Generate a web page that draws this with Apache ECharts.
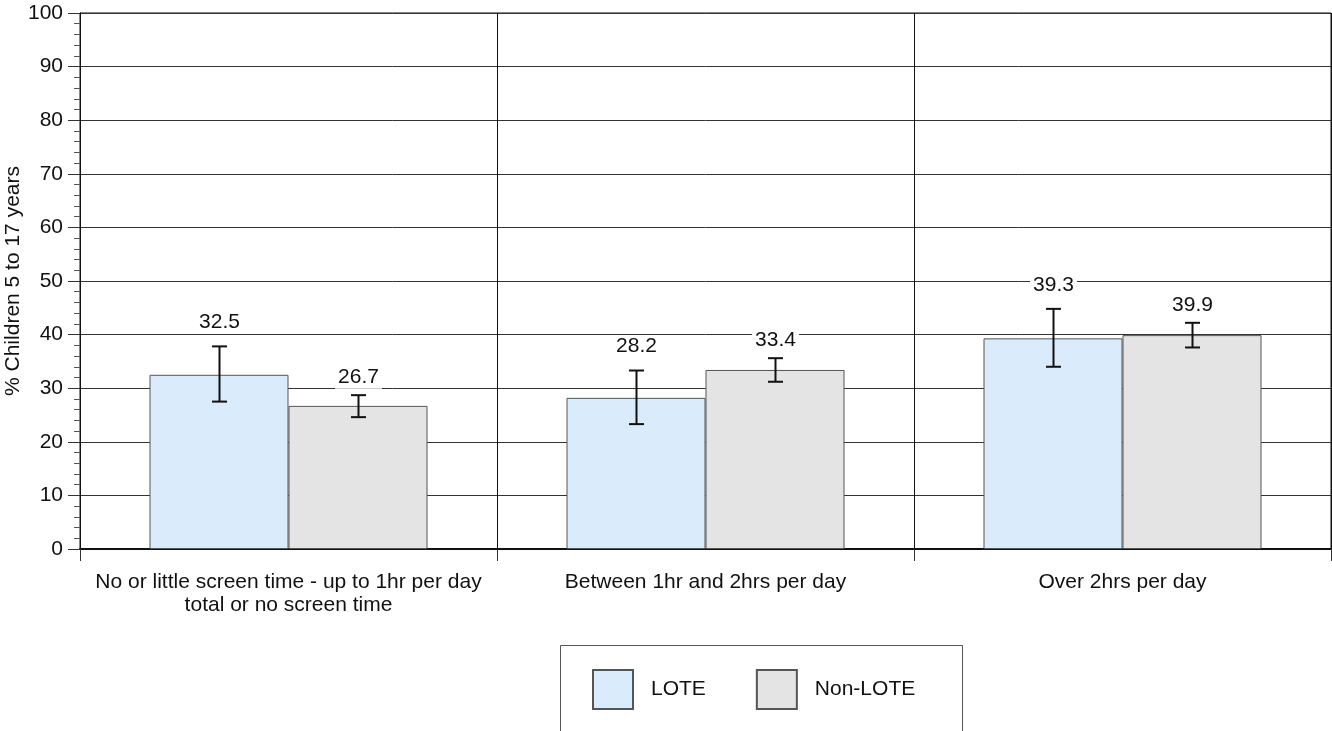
<!DOCTYPE html>
<html>
<head>
<meta charset="utf-8">
<script src="https://cdn.jsdelivr.net/npm/echarts@6/dist/echarts.min.js"></script>
<style>
  html, body { margin: 0; padding: 0; background: #fff; }
  #chart { width: 1332px; height: 731px; }
</style>
</head>
<body>
<div id="chart"></div>
<script>
// Screen time categories (x axis)
const categories = [
  'No or little screen time - up to 1hr per day\ntotal or no screen time',
  'Between 1hr and 2hrs per day',
  'Over 2hrs per day'
];
const seriesNames = ['LOTE', 'Non-LOTE'];

// Percentages with 95% confidence interval bounds
const loteValues = [32.5, 28.2, 39.3];
const loteLower = [27.5, 23.3, 34.0];
const loteUpper = [37.8, 33.3, 44.8];

const nonLoteValues = [26.7, 33.4, 39.9];
const nonLoteLower = [24.6, 31.2, 37.6];
const nonLoteUpper = [28.7, 35.6, 42.2];

const yTicks = [0, 10, 20, 30, 40, 50, 60, 70, 80, 90, 100];

const FONT = 'Liberation Sans, Arial, sans-serif';
const CATEGORY_GAP = 1 / 3;

// Builds [index, lower, upper, value] rows for the error-bar series
function ciRows(values, lower, upper) {
  return values.map((v, i) => [i, lower[i], upper[i], v]);
}

// Draws a whisker with caps and the value label above it.
// side: -1 for the left bar in the group, +1 for the right bar.
function errorBar(side, labelLift) {
  return function (params, api) {
    const i = api.value(0);
    const lo = api.coord([i, api.value(1)]);
    const hi = api.coord([i, api.value(2)]);
    const band = api.size([1, 0])[0];
    const barW = band * (1 - CATEGORY_GAP) / 2;
    const x = Math.round(lo[0] + side * barW / 2) + 0.5;
    const cap = 7.5;
    const stroke = { stroke: '#111', lineWidth: 2 };
    return {
      type: 'group',
      children: [
        { type: 'line', shape: { x1: x, y1: hi[1], x2: x, y2: lo[1] }, style: stroke },
        { type: 'line', shape: { x1: x - cap, y1: hi[1], x2: x + cap, y2: hi[1] }, style: stroke },
        { type: 'line', shape: { x1: x - cap, y1: lo[1], x2: x + cap, y2: lo[1] }, style: stroke },
        {
          type: 'text',
          x: x,
          y: hi[1] - labelLift,
          style: {
            text: api.value(3).toFixed(1),
            fill: '#111',
            font: '21px ' + FONT,
            align: 'center',
            verticalAlign: 'middle',
            backgroundColor: '#fff',
            padding: [0, 3, 1, 3]
          }
        }
      ]
    };
  };
}

const chart = echarts.init(document.getElementById('chart'), null, { renderer: 'canvas' });

chart.setOption({
  animation: false,
  backgroundColor: '#fff',
  textStyle: { fontFamily: FONT },
  grid: {
    left: 80, right: 1, top: 13, bottom: 182,
    show: true, borderColor: '#111', borderWidth: 1, backgroundColor: 'transparent'
  },
  xAxis: {
    type: 'category',
    data: categories,
    boundaryGap: true,
    axisLine: { show: true, lineStyle: { color: '#111', width: 2 } },
    axisTick: { show: true, length: 12, alignWithLabel: false, lineStyle: { color: '#333', width: 1 } },
    splitLine: { show: true, lineStyle: { color: '#111', width: 1 } },
    axisLabel: {
      fontSize: 21, color: '#111', margin: 22, lineHeight: 23, interval: 0
    }
  },
  yAxis: {
    type: 'value',
    min: 0, max: 100, interval: 10,
    axisLine: { show: true, lineStyle: { color: '#111', width: 1 } },
    axisTick: { show: true, inside: false, length: 12, lineStyle: { color: '#333' } },
    minorTick: { show: true, splitNumber: 5, length: 6, lineStyle: { color: '#555' } },
    splitLine: { show: true, lineStyle: { color: '#333', width: 1 } },
    axisLabel: {
      fontSize: 21, color: '#111', margin: 17,
      formatter: v => (yTicks.includes(v) ? String(v) : '')
    }
  },
  legend: {
    data: seriesNames,
    left: 592, top: 669,
    padding: 0,
    itemWidth: 40, itemHeight: 39, itemGap: 50,
    icon: 'rect',
    textStyle: { fontSize: 21, color: '#111', padding: [0, 0, 0, 13] }
  },
  graphic: [
    {
      type: 'rect',
      shape: { x: 560.5, y: 645.5, width: 402, height: 120 },
      style: { fill: 'none', stroke: '#555', lineWidth: 1 },
      z: -1
    },
    {
      type: 'text',
      x: 13, y: 281,
      rotation: Math.PI / 2,
      style: {
        text: '% Children 5 to 17 years',
        font: '21px ' + FONT,
        fill: '#111',
        align: 'center',
        verticalAlign: 'middle'
      }
    }
  ],
  series: [
    {
      name: 'LOTE',
      type: 'bar',
      data: loteValues,
      barGap: '0%',
      barCategoryGap: (CATEGORY_GAP * 100) + '%',
      itemStyle: { color: '#daebfc', borderColor: '#555', borderWidth: 1 }
    },
    {
      name: 'Non-LOTE',
      type: 'bar',
      data: nonLoteValues,
      barGap: '0%',
      barCategoryGap: (CATEGORY_GAP * 100) + '%',
      itemStyle: { color: '#e4e4e4', borderColor: '#555', borderWidth: 1 }
    },
    {
      name: 'LOTE CI',
      type: 'custom',
      data: ciRows(loteValues, loteLower, loteUpper),
      encode: { x: 0, y: [1, 2] },
      renderItem: errorBar(-1, 24),
      z: 5
    },
    {
      name: 'Non-LOTE CI',
      type: 'custom',
      data: ciRows(nonLoteValues, nonLoteLower, nonLoteUpper),
      encode: { x: 0, y: [1, 2] },
      renderItem: errorBar(1, 17.5),
      z: 5
    }
  ]
});
</script>
</body>
</html>
